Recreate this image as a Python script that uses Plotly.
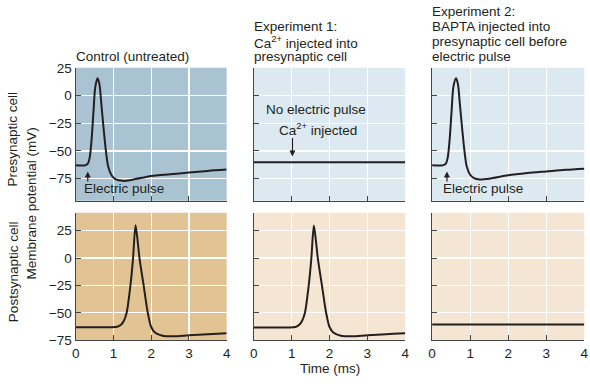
import plotly.graph_objects as go

# ---------------- data ----------------
time_pre_control = [0, 0.25, 0.32, 0.37, 0.42, 0.47, 0.52, 0.58, 0.63, 0.68, 0.74, 0.80,
                    0.86, 0.95, 1.05, 1.25, 1.5, 2.0, 2.5, 3.0, 3.5, 4.0]
v_pre_control = [-63, -63, -61.5, -56, -40, -15, 8, 15.7, 10, -8, -30, -50,
                 -64, -72, -75.5, -77, -76, -72.5, -71, -69.5, -68, -66.8]

time_pre_bapta = [0, 0.28, 0.36, 0.41, 0.46, 0.51, 0.56, 0.63, 0.68, 0.73, 0.79, 0.85,
                  0.91, 1.0, 1.1, 1.25, 1.5, 2.0, 2.5, 3.0, 3.5, 4.0]
v_pre_bapta = [-63, -63, -61.5, -56, -40, -15, 8, 15.7, 10, -8, -30, -50,
               -64, -71.5, -74.5, -75.7, -75, -72, -70, -68.5, -67, -66]

time_flat = [0, 4]
v_pre_exp1 = [-60.3, -60.3]
v_post_exp2 = [-60.8, -60.8]

time_post = [0, 0.9, 1.1, 1.2, 1.28, 1.35, 1.45, 1.52, 1.585, 1.64, 1.69, 1.80,
             1.91, 2.0, 2.1, 2.3, 2.6, 3.0, 3.5, 4.0]
v_post_control = [-63.2, -63.2, -62.8, -61, -57, -50, -25, 0, 30, 16, 0, -25,
                  -50, -63, -68, -71, -71.5, -70.5, -69.5, -68.7]
v_post_exp1 = [-63.4, -63.4, -63, -61, -57, -50, -25, 0, 29.7, 16, 0, -25,
               -50, -63, -68, -71, -71.5, -70.5, -69.5, -68.8]

x_ticks = [0, 1, 2, 3, 4]
y_ticks_top = [25, 0, -25, -50, -75]
y_ticks_bottom = [25, 0, -25, -50, -75]

title_lines = [
    ["Control (untreated)"],
    ["Experiment 1:", "Ca<sup>2+</sup> injected into", "presynaptic cell"],
    ["Experiment 2:", "BAPTA injected into", "presynaptic cell before", "electric pulse"],
]

# ---------------- layout helpers ----------------
W, H = 590, 384
FONT = "Liberation Sans, Arial, Helvetica, sans-serif"
INK = "#231f20"
FS = 13.5

cols_px = [(72.7, 225.7), (253.3, 406.7), (434.0, 588.3)]
top_px = (63.3, 201.7)
bot_px = (214.0, 346.7)

def dx(a, b):
    return [a / W, b / W]

def dy(t, b):
    return [1 - b / H, 1 - t / H]

bg_top = ["#a9c3d3", "#dce9f1", "#dce9f1"]
bg_bot = ["#e2c494", "#f5e6d3", "#f5e6d3"]

fig = go.Figure()

series = [
    (1, time_pre_control, v_pre_control),
    (2, time_flat, v_pre_exp1),
    (3, time_pre_bapta, v_pre_bapta),
    (4, time_post, v_post_control),
    (5, time_post, v_post_exp1),
    (6, time_flat, v_post_exp2),
]
for idx, xs, ys in series:
    sfx = "" if idx == 1 else str(idx)
    fig.add_trace(go.Scatter(
        x=xs, y=ys, mode="lines",
        line=dict(color=INK, width=2, shape="spline", smoothing=0.8),
        xaxis="x" + sfx, yaxis="y" + sfx, showlegend=False, hoverinfo="skip"))

layout = dict(
    width=W, height=H,
    margin=dict(l=0, r=0, t=0, b=0),
    paper_bgcolor="white",
    plot_bgcolor="white",
    font=dict(family=FONT, size=FS, color=INK),
    showlegend=False,
)

shapes = []
for i in range(6):
    idx = i + 1
    sfx = "" if idx == 1 else str(idx)
    col = i % 3
    top_row = i < 3
    rp = top_px if top_row else bot_px
    layout["xaxis" + sfx] = dict(
        domain=dx(*cols_px[col]), anchor="y" + sfx, range=[0, 4],
        tickvals=x_ticks, showticklabels=not top_row,
        ticks="inside", ticklen=5, tickcolor="#444", tickwidth=1,
        showline=True, linecolor="#444", linewidth=1.2,
        showgrid=True, gridcolor="white", gridwidth=1.2,
        zeroline=False, fixedrange=True,
        tickfont=dict(family=FONT, size=FS, color=INK),
    )
    layout["yaxis" + sfx] = dict(
        domain=dy(*rp), anchor="x" + sfx,
        range=[-95, 25] if top_row else [-75, 41.5],
        tickvals=y_ticks_top if top_row else y_ticks_bottom,
        showticklabels=(col == 0),
        ticks="inside", ticklen=5, tickcolor="#444", tickwidth=1,
        showline=True, linecolor="#444", linewidth=1.2,
        showgrid=True, gridcolor="white", gridwidth=1.2,
        zeroline=False, fixedrange=True,
        tickfont=dict(family=FONT, size=FS, color=INK),
    )
    shapes.append(dict(type="rect", xref="x" + sfx + " domain", yref="y" + sfx + " domain",
                       x0=0, x1=1, y0=0, y1=1, layer="below", line=dict(width=0),
                       fillcolor=bg_top[col] if top_row else bg_bot[col]))

layout["shapes"] = shapes

ann = []
# column titles, one annotation per line (bottom line centred at y=51.5px)
line_gap = 15.5
for col, lines in enumerate(title_lines):
    n = len(lines)
    for k, t in enumerate(lines):
        yc = 51.5 - (n - 1 - k) * line_gap
        ann.append(dict(text=t, xref="paper", yref="paper",
                        x=(cols_px[col][0] - 1) / W, y=1 - yc / H,
                        xanchor="left", yanchor="middle", align="left", borderpad=0,
                        showarrow=False, font=dict(size=FS, color=INK)))

# y titles
ann.append(dict(text="Presynaptic cell", textangle=-90, xref="paper", yref="paper",
                x=9 / W, y=1 - 137 / H, xanchor="center", yanchor="middle",
                showarrow=False, font=dict(size=FS, color=INK)))
ann.append(dict(text="Postsynaptic cell", textangle=-90, xref="paper", yref="paper",
                x=9 / W, y=1 - 275 / H, xanchor="center", yanchor="middle",
                showarrow=False, font=dict(size=FS, color=INK)))
ann.append(dict(text="Membrane potential (mV)", textangle=-90, xref="paper", yref="paper",
                x=28 / W, y=1 - 205 / H, xanchor="center", yanchor="middle",
                showarrow=False, font=dict(size=FS, color=INK)))
# x title
ann.append(dict(text="Time (ms)", xref="paper", yref="paper",
                x=330 / W, y=1 - 376.5 / H, xanchor="center", yanchor="middle",
                showarrow=False, font=dict(size=FS, color=INK)))

# Electric pulse arrows
for sfx, ax_x, tx in [("", 0.32, 0.20), ("3", 0.39, 0.26)]:
    ann.append(dict(text="", x=ax_x, y=-68.5, ax=ax_x, ay=-79,
                    xref="x" + sfx, yref="y" + sfx, axref="x" + sfx, ayref="y" + sfx,
                    showarrow=True, arrowhead=2, arrowsize=1, arrowwidth=1.2,
                    arrowcolor=INK))
    ann.append(dict(text="Electric pulse", x=tx, y=-84, xref="x" + sfx, yref="y" + sfx,
                    xanchor="left", yanchor="middle", showarrow=False, borderpad=0,
                    font=dict(size=FS, color=INK)))

# Experiment 1 annotations
ann.append(dict(text="No electric pulse", x=1.63, y=-12.7, xref="x2", yref="y2",
                xanchor="center", yanchor="middle", showarrow=False,
                font=dict(size=FS, color=INK)))
ann.append(dict(text="Ca<sup>2+</sup> injected", x=1.69, y=-30, xref="x2", yref="y2",
                xanchor="center", yanchor="middle", showarrow=False,
                font=dict(size=FS, color=INK)))
ann.append(dict(text="", x=1.02, y=-55, ax=1.02, ay=-37,
                xref="x2", yref="y2", axref="x2", ayref="y2",
                showarrow=True, arrowhead=2, arrowsize=1, arrowwidth=1.2,
                arrowcolor=INK))

layout["annotations"] = ann
fig.update_layout(**layout)

fig.write_html("out.html",
               config={"displayModeBar": False, "staticPlot": True},
               post_script="document.body.style.margin='0';document.body.style.padding='0';")
